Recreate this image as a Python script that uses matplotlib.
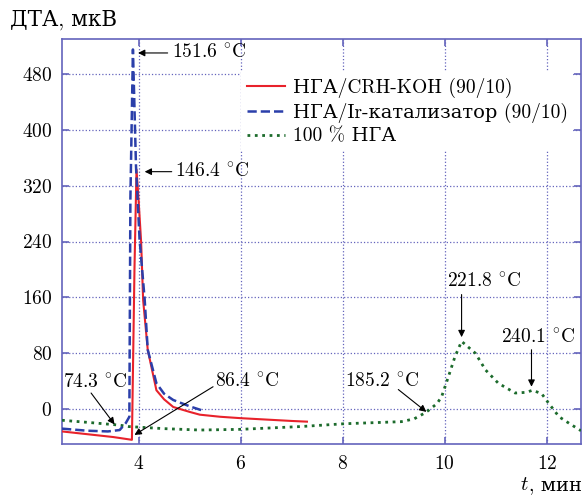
import matplotlib
matplotlib.use("Agg")
import matplotlib.pyplot as plt

plt.rcParams['font.family'] = ['cmr10', 'DejaVu Serif']
plt.rcParams['mathtext.fontset'] = 'cm'
plt.rcParams['axes.formatter.use_mathtext'] = True
plt.rcParams['font.size'] = 14

# ========== данные ==========
# НГА/CRH-KOH (90/10)
t_crh = [2.5, 3.0, 3.5, 3.87, 3.92, 3.96, 4.0, 4.05, 4.09, 4.18, 4.35, 4.5,
         4.68, 5.0, 5.2, 5.6, 6.0, 6.5, 7.0, 7.3]
dta_crh = [-32, -36, -40, -44, 200, 343, 300, 240, 156, 85, 27, 14,
           3, -4, -8, -11, -13, -15, -17, -18]

# НГА/Ir-катализатор (90/10)
t_ir = [2.5, 3.0, 3.4, 3.63, 3.75, 3.82, 3.84, 3.89, 3.95, 4.02, 4.12, 4.18,
        4.35, 4.5, 4.68, 5.0, 5.25]
dta_ir = [-28, -31, -32, -30, -20, -11, 300, 515, 348, 243, 157, 85,
          37, 22, 13, 4, -2]

# 100 % НГА
t_nga = [2.5, 3.0, 3.63, 3.8, 4.5, 5.2, 6.0, 7.18, 8.03, 9.15, 9.4, 9.6, 9.68,
         9.85, 9.94, 10.07, 10.2, 10.33, 10.6, 10.8, 11.05, 11.38, 11.6, 11.72,
         11.9, 12.04, 12.24, 12.45, 12.67]
dta_nga = [-16, -19, -23, -25, -28, -30, -29, -25, -21, -18, -14, -6, -2,
           8, 18, 46, 75, 97, 80, 56, 37, 23, 24, 27, 22, 8, -11, -21, -31]

labels = ['НГА/CRH-KOH (90/10)', 'НГА/Ir-катализатор (90/10)', '100 % НГА']

# подписи температур: текст, позиция текста, выравнивание, начало и конец стрелки
notes = [
    ('151.6', (4.65, 510), 'left', (4.57, 510), (3.99, 510)),
    ('146.4', (4.71, 340), 'left', (4.65, 340), (4.12, 340)),
    ('74.3', (3.15, 38), 'center', (3.07, 23), (3.53, -22)),
    ('86.4', (5.49, 40), 'left', (5.46, 32), (3.92, -37)),
    ('185.2', (8.78, 40), 'center', (9.09, 28), (9.64, -4)),
    ('221.8', (10.77, 183), 'center', (10.33, 164), (10.33, 103)),
    ('240.1', (11.84, 102), 'center', (11.7, 85), (11.7, 32)),
]

axis_col = '#6464bc'

fig = plt.figure(figsize=(5.84, 4.97), dpi=100)
ax = fig.add_axes([62 / 584, 53 / 497, 519 / 584, 405 / 497])

ax.plot(t_crh, dta_crh, color='#e8222b', lw=1.5, label=labels[0], zorder=3)
ax.plot(t_ir, dta_ir, color='#2b3faa', lw=1.8, ls='--', label=labels[1], zorder=4)
ax.plot(t_nga, dta_nga, color='#1c6b2c', lw=2.0, ls=':', label=labels[2], zorder=3)

for txt, pos, ha, tail, tip in notes:
    ax.annotate('', xy=tip, xytext=tail,
                arrowprops=dict(arrowstyle='-|>', color='black', lw=0.8,
                                shrinkA=0, shrinkB=0, mutation_scale=10),
                zorder=5)
    ax.text(pos[0], pos[1], txt + r' $^{\circ}$C', ha=ha, va='center',
            fontsize=14, zorder=5)

ax.set_xlim(2.5, 12.67)
ax.set_ylim(-50, 530)
ax.set_xticks([4, 6, 8, 10, 12])
ax.set_yticks([0, 80, 160, 240, 320, 400, 480])

ax.grid(True, color=axis_col, ls=':', lw=0.9)
ax.set_axisbelow(True)
for s in ax.spines.values():
    s.set_color(axis_col)
    s.set_linewidth(1.2)
ax.tick_params(direction='in', length=5, width=1.2, color=axis_col,
               top=True, right=True, labelsize=14, pad=7)
ax.tick_params(axis='x', pad=8)

leg = ax.legend(loc='upper left', bbox_to_anchor=(0.345, 0.919), frameon=True,
                fancybox=False, facecolor='white', edgecolor='none', framealpha=1,
                handlelength=1.95, handletextpad=0.4, labelspacing=0.25,
                borderpad=0.3, borderaxespad=0, fontsize=14)
leg.set_zorder(6)

fig.text(10 / 584, 1 - 20 / 497, 'ДТА, мкВ', ha='left', va='center', fontsize=15.5)
fig.text(529 / 584, 1 - 485 / 497, '$t$', ha='right', va='center', fontsize=15)
fig.text(529 / 584, 1 - 485 / 497, ', мин', ha='left', va='center', fontsize=14)

fig.savefig('out.png', dpi=100)
